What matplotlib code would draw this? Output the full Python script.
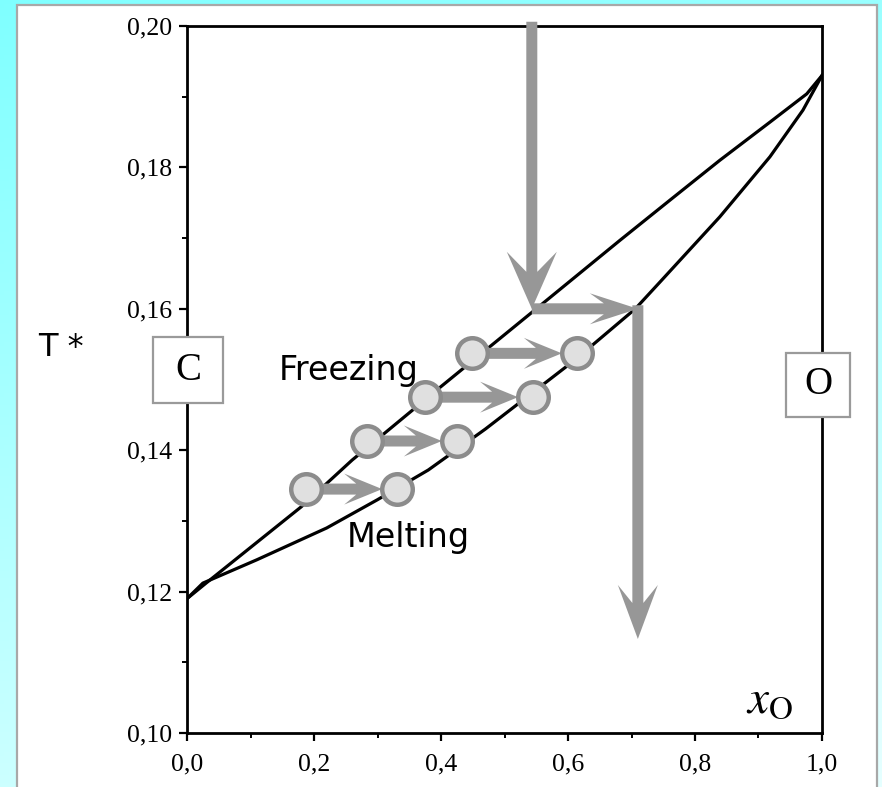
import numpy as np
import matplotlib
matplotlib.use("Agg")
import matplotlib.pyplot as plt
from matplotlib.patches import Polygon, Rectangle
from matplotlib.transforms import IdentityTransform
from matplotlib.ticker import FuncFormatter, MultipleLocator

# freezing (upper) and melting (lower) branches of the C-O phase diagram
x_freeze = [0.0, 0.03, 0.18, 0.26, 0.40, 0.55, 0.682, 0.761, 0.839, 0.918, 0.976, 1.0]
t_freeze = [0.119, 0.1212, 0.132, 0.1386, 0.149, 0.160, 0.1697, 0.1754, 0.181, 0.1864, 0.1904, 0.193]
x_melt = [0.0, 0.025, 0.11, 0.22, 0.30, 0.38, 0.47, 0.61, 0.706, 0.745, 0.839, 0.918, 0.97, 1.0]
t_melt = [0.119, 0.1212, 0.1245, 0.129, 0.1330, 0.1372, 0.1430, 0.1527, 0.160, 0.1638, 0.173, 0.1815, 0.1881, 0.193]

# freezing step pairs: liquid composition -> solid composition
step_t = [0.1345, 0.1413, 0.1475, 0.1537]
step_x0 = [0.187, 0.283, 0.375, 0.449]
step_x1 = [0.331, 0.425, 0.545, 0.614]

# big path: cooling down to the freezing curve, across, then down
path_x = [0.543, 0.543, 0.71, 0.71]
path_t = [0.2006, 0.160, 0.160, 0.1133]

W, H = 882, 787
GREY = "#979797"

fig = plt.figure(figsize=(W / 100, H / 100), dpi=100)

# cyan backdrop
bg = fig.add_axes([0, 0, 1, 1], zorder=-10)
yy, xx = np.mgrid[0:1:200j, 0:1:200j]
r = 0.50 + 0.30 * yy + 0.10 * xx
img = np.dstack([r, np.ones_like(r), np.ones_like(r)])
bg.imshow(img, extent=[0, 1, 0, 1], aspect="auto", origin="upper")
bg.set_axis_off()
bg.add_patch(Rectangle((17 / W, -0.01), 860 / W, (787 - 5) / H + 0.01,
                       transform=bg.transAxes, facecolor="white",
                       edgecolor="#a8a8a8", lw=1.6))

L, R, T, B = 187, 822, 26, 733
ax = fig.add_axes([L / W, (H - B) / H, (R - L) / W, (B - T) / H])
ax.set_xlim(0, 1.0)
ax.set_ylim(0.10, 0.20)
ax.patch.set_alpha(0)

ax.plot(x_freeze, t_freeze, color="black", lw=2.3, zorder=2)
ax.plot(x_melt, t_melt, color="black", lw=2.3, zorder=2)

for s in ax.spines.values():
    s.set_linewidth(2.0)
ax.xaxis.set_major_locator(MultipleLocator(0.2))
ax.xaxis.set_minor_locator(MultipleLocator(0.1))
ax.yaxis.set_major_locator(MultipleLocator(0.02))
ax.yaxis.set_minor_locator(MultipleLocator(0.01))
ax.xaxis.set_major_formatter(FuncFormatter(lambda v, p: f"{v:.1f}".replace(".", ",")))
ax.yaxis.set_major_formatter(FuncFormatter(lambda v, p: f"{v:.2f}".replace(".", ",")))
ax.tick_params(which="major", direction="out", length=6, width=1.6,
               labelsize=18.5, top=False, right=False)
ax.tick_params(which="minor", direction="out", length=3.5, width=1.4,
               top=False, right=False)
ax.tick_params(axis="x", which="major", pad=9)
ax.tick_params(axis="y", which="major", pad=5)
for lab in ax.get_xticklabels() + ax.get_yticklabels():
    lab.set_family("Liberation Serif")


def px(x, t):
    return ax.transData.transform((x, t))


def dart(p0, p1, shaft, head_w, head_len, notch, z=4):
    """Notched arrow drawn in pixel space from p0 to p1 (data coords)."""
    a, b = px(*p0), px(*p1)
    d = b - a
    ln = np.hypot(*d)
    u = d / ln
    v = np.array([-u[1], u[0]])
    pts = [(0, shaft / 2), (ln - head_len + notch, shaft / 2),
           (ln - head_len, head_w / 2), (ln, 0),
           (ln - head_len, -head_w / 2), (ln - head_len + notch, -shaft / 2),
           (0, -shaft / 2)]
    poly = [a + s * u + w * v for s, w in pts]
    ax.add_patch(Polygon(poly, closed=True, transform=IdentityTransform(),
                         facecolor=GREY, edgecolor="none", zorder=z,
                         clip_on=False))


# cooling path
dart((path_x[0], path_t[0]), (path_x[1], path_t[1]), 11, 50, 57, 20)
dart((path_x[1], path_t[1]), (path_x[2], path_t[2]), 11, 31, 48, 14)
dart((path_x[2], path_t[2] + 0.0005), (path_x[3], path_t[3]), 11, 40, 54, 18)

# stepwise freezing arrows between the two branches
for t, x0, x1 in zip(step_t, step_x0, step_x1):
    a, b = px(x0, t), px(x1, t)
    tip = ax.transData.inverted().transform((b[0] - 15, b[1]))
    dart((x0, t), (tip[0], t), 11, 31, 38, 12)
ax.plot(step_x0 + step_x1, step_t + step_t, linestyle="none", marker="o",
        ms=22, mfc="#e0e0e0", mec="#8c8c8c", mew=3.2, zorder=5)

ax.text(0.254, 0.1513, "Freezing", fontsize=24, family="DejaVu Sans",
        ha="center", va="center", zorder=6)
ax.text(0.348, 0.1277, "Melting", fontsize=24, family="DejaVu Sans",
        ha="center", va="center", zorder=6)


def label_box(cx, cy, text, w=70, h=66):
    fig.patches.append(Rectangle(((cx - w / 2) / W, (H - cy - h / 2) / H), w / W, h / H,
                                 transform=fig.transFigure, facecolor="white",
                                 edgecolor="#9a9a9a", lw=1.6, zorder=8))
    fig.text(cx / W, (H - cy) / H, text, fontsize=28, family="Liberation Serif",
             ha="center", va="center", zorder=9)


label_box(188, 370, "C")
label_box(818, 385, "O", w=64, h=64)

fig.text(61 / W, (H - 347) / H, "T *", fontsize=23, family="DejaVu Sans",
         ha="center", va="center")

plt.rcParams["mathtext.fontset"] = "stix"
ax.text(0.918, 0.1047, r"$x_{\mathrm{O}}$", fontsize=34, ha="center",
        va="center", zorder=6)

fig.savefig("out.png", dpi=100)
